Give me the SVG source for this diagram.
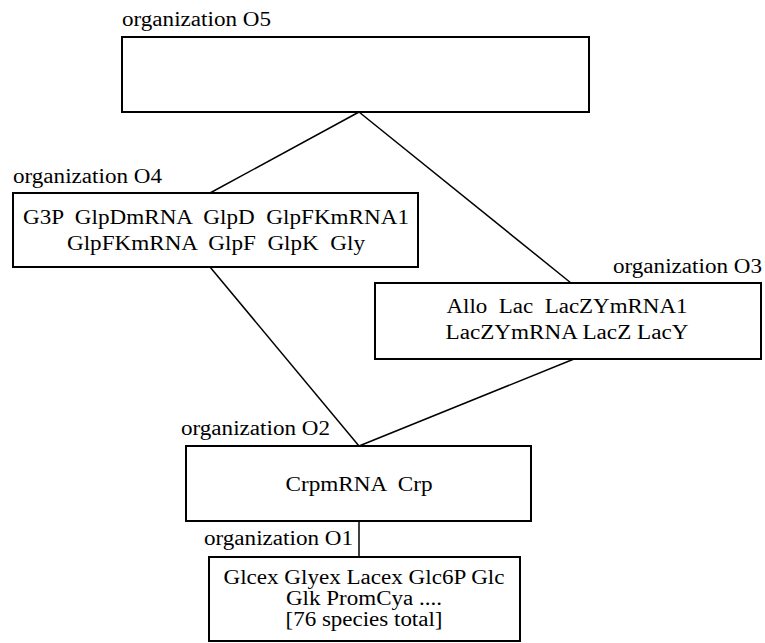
<svg xmlns="http://www.w3.org/2000/svg" width="765" height="643" viewBox="0 0 765 643">
<style>
.box{fill:#fff;stroke:#000;stroke-width:2}
line{stroke:#000;stroke-width:1.5}
text{font-family:"Liberation Serif","Times New Roman",serif;font-size:20px;fill:#000}
.c{text-anchor:middle}
</style>
<rect width="765" height="643" fill="#fff"/>
<g id="connectors">
<line x1="359" y1="112" x2="210" y2="193"/>
<line x1="359" y1="112" x2="571" y2="283"/>
<line x1="210" y1="267" x2="359" y2="446"/>
<line x1="574" y1="359" x2="359" y2="446"/>
<line x1="359" y1="521" x2="359" y2="557"/>
</g>
<g id="O5">
<text x="122" y="26" textLength="149" lengthAdjust="spacingAndGlyphs">organization O5</text>
<rect class="box" x="122" y="37" width="467" height="75"/>
</g>
<g id="O4">
<text x="13" y="183" textLength="149" lengthAdjust="spacingAndGlyphs">organization O4</text>
<rect class="box" x="13" y="193" width="405" height="74"/>
<text class="c" x="216" y="224" xml:space="preserve" textLength="386" lengthAdjust="spacingAndGlyphs">G3P  GlpDmRNA  GlpD  GlpFKmRNA1</text>
<text class="c" x="216" y="250" xml:space="preserve" textLength="298" lengthAdjust="spacingAndGlyphs">GlpFKmRNA  GlpF  GlpK  Gly</text>
</g>
<g id="O3">
<text x="762" y="273" text-anchor="end" textLength="149" lengthAdjust="spacingAndGlyphs">organization O3</text>
<rect class="box" x="375" y="283" width="386" height="76"/>
<text class="c" x="567" y="313" xml:space="preserve" textLength="241" lengthAdjust="spacingAndGlyphs">Allo  Lac  LacZYmRNA1</text>
<text class="c" x="567" y="339" textLength="243" lengthAdjust="spacingAndGlyphs">LacZYmRNA LacZ LacY</text>
</g>
<g id="O2">
<text x="181" y="435" textLength="149" lengthAdjust="spacingAndGlyphs">organization O2</text>
<rect class="box" x="186" y="446" width="345" height="75"/>
<text class="c" x="359" y="491" xml:space="preserve" textLength="147" lengthAdjust="spacingAndGlyphs">CrpmRNA  Crp</text>
</g>
<g id="O1">
<text x="204" y="545" textLength="149" lengthAdjust="spacingAndGlyphs">organization O1</text>
<rect class="box" x="209" y="557" width="311" height="84"/>
<text class="c" x="364" y="584" textLength="281" lengthAdjust="spacingAndGlyphs">Glcex Glyex Lacex Glc6P Glc</text>
<text class="c" x="364" y="605" textLength="156" lengthAdjust="spacingAndGlyphs">Glk PromCya ....</text>
<text class="c" x="364" y="626" textLength="157" lengthAdjust="spacingAndGlyphs">[76 species total]</text>
</g>
</svg>
